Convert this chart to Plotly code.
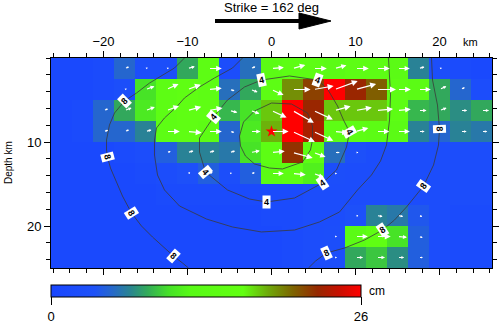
import math
import plotly.graph_objects as go

# ---------------- data ----------------
along_strike_km = [-25.0, -22.5, -20.0, -17.5, -15.0, -12.5, -10.0, -7.5, -5.0, -2.5, 0.0,
                   2.5, 5.0, 7.5, 10.0, 12.5, 15.0, 17.5, 20.0, 22.5, 25.0]
depth_km = [1.25, 3.75, 6.25, 8.75, 11.25, 13.75, 16.25, 18.75, 21.25, 23.75]

slip_cm = [
    [1, 1, 1.5, 5, 2.5, 2.5, 8, 14, 2, 5.5, 13, 14, 14, 13, 14, 14, 13, 6.5, 2.5, 1.5, 1],
    [1, 1, 1.5, 2.5, 10, 14, 15, 14, 5.5, 8, 14, 19, 21.5, 26, 22.5, 20.5, 14, 13, 8, 5, 2],
    [1, 1.5, 5, 8, 10.5, 14, 15, 15, 8.5, 10, 17.5, 26, 22.5, 17.5, 17.5, 17.5, 14, 8.5, 8, 7, 8],
    [1, 1.5, 5, 5, 6.5, 14, 15, 14, 5, 10.5, 18, 26, 23, 14, 14, 13.5, 13, 6.5, 5, 6.5, 6],
    [1, 1, 1, 1.5, 2, 4.5, 6.5, 6.5, 6, 10, 14, 22, 13.5, 5.5, 3, 2, 2, 2, 2, 2, 2],
    [1, 1, 1, 1, 1.5, 2, 3, 4.5, 2.5, 4.5, 13, 14, 11, 2.5, 2, 2, 2, 2, 2, 2, 2],
    [1, 1, 1, 1, 1, 1.5, 1.5, 1.5, 1.5, 1.5, 1.5, 1.5, 2, 2, 2, 2, 2, 2, 2, 2, 2],
    [1, 1, 1, 1, 1, 1, 1, 1, 1, 1, 1.5, 1.5, 2, 2, 3, 6.5, 6, 4, 2, 1.5, 1.5],
    [1, 1, 1, 1, 1, 1, 1, 1, 1, 1, 1, 1.5, 2, 2.5, 13, 15, 10, 4.5, 2, 1.5, 1.5],
    [1, 1, 1, 1, 1, 1, 1, 1, 1, 1, 1, 1.5, 2, 2.5, 8, 9, 7, 4.5, 2, 1.5, 1.5],
]

rake_deg = [
    [15, 15, 15, 20, 20, 15, 15, 0, 25, 20, 5, 15, 0, 15, 0, 0, 0, 15, 15, 0, 0],
    [20, 20, 20, 20, 20, 25, 20, 5, -15, -20, -25, 0, 10, 20, 15, 0, 0, 0, 25, 25, 0],
    [20, 20, 20, 20, 20, 20, 15, 10, -15, -20, -25, -30, -25, 15, 10, 5, 5, 0, 20, 0, 0],
    [15, 15, 15, 20, 15, 0, -5, 0, -10, 0, 0, -25, -25, -5, 15, 0, 0, 0, 0, 0, 0],
    [15, 15, 15, 15, 15, 15, 15, 15, 15, 10, 5, -15, -20, 0, 0, 0, 0, 0, 0, 0, 0],
    [15, 15, 15, 15, 15, 15, 15, 15, 10, 10, 0, -5, -20, 0, 0, 0, 0, 0, 0, 0, 0],
    [15, 15, 15, 15, 15, 15, 15, 0, 0, 0, 0, 0, 0, 0, 0, 0, 0, 0, 0, 0, 0],
    [15, 15, 15, 15, 15, 15, 0, 0, 0, 0, 0, 0, 0, 0, -10, -10, -10, -15, 0, 0, 0],
    [0, 0, 0, 0, 0, 0, 0, 0, 0, 0, 0, 0, 0, 0, 0, 0, -5, -15, 0, 0, 0],
    [0, 0, 0, 0, 0, 0, 0, 0, 0, 0, 0, 0, 0, 0, 0, 0, 0, 0, 0, 0, 0],
]

hypo_x = [0.0]
hypo_depth = [8.75]

# rupture-time contour polylines (km along strike, km depth)
c2_x = [-3.81, -3.33, -2.02, 0.0, 2.38, 4.29, 4.88, 4.88, 4.64, 3.69, 1.31, -0.24, -2.02, -3.10, -3.69, -3.81]
c2_d = [9.29, 7.62, 6.31, 5.36, 5.48, 6.55, 8.10, 9.76, 10.95, 12.38, 13.21, 13.10, 12.62, 11.67, 10.48, 9.29]

c4_x = [-1.19, 2.14, 5.48, 6.67, 7.86, 8.57, 9.29, 8.93, 7.74, 6.07, 2.74, -0.60, -2.62, -5.24, -7.86,
        -8.57, -8.57, -6.90, -5.24, -3.21, -1.19]
c4_d = [2.62, 2.14, 2.62, 3.69, 5.71, 7.38, 8.81, 10.60, 13.33, 14.88, 16.67, 17.14, 16.79, 15.71, 13.57,
        11.20, 9.52, 7.02, 5.00, 3.45, 2.62]

c6_x = [-3.45, -4.64, -6.79, -8.57, -10.36, -11.31, -12.74, -13.69, -13.93, -13.93, -13.57, -12.74, -10.95,
        -9.17, -7.74, -4.64, -1.19, 2.74, 5.71, 8.10, 10.24, 11.90, 12.98, 13.69, 14.05, 14.17, 13.93]
c6_d = [0.0, 1.19, 2.38, 3.45, 4.76, 5.83, 7.14, 8.33, 9.76, 11.55, 13.93, 15.71, 17.62,
        18.45, 19.17, 20.12, 20.71, 20.48, 19.52, 18.33, 15.71, 13.93, 12.26, 10.36, 7.38, 4.40, 0.0]

c8a_x = [-10.36, -11.55, -14.52, -16.07, -17.50, -18.69, -19.29, -19.64, -19.64, -19.52, -19.17, -18.57,
         -17.74, -16.67, -15.48, -14.17, -12.98, -11.67, -10.60, -9.88]
c8a_d = [0.0, 1.19, 2.98, 4.17, 5.12, 6.55, 7.98, 9.76, 10.95, 11.79, 13.10, 14.52,
         16.43, 18.45, 20.00, 21.31, 22.38, 23.57, 24.40, 25.0]

c8b_x = [19.05, 19.17, 19.76, 20.0, 19.88, 19.29, 18.10, 16.07, 14.64, 13.21, 11.07, 8.69, 6.55, 5.24, 4.40]
c8b_d = [0.0, 2.62, 5.60, 8.45, 10.36, 12.74, 15.24, 17.74, 19.29, 20.48, 21.67, 22.62, 23.21, 24.17, 25.0]

label_text = ["4", "4", "4", "4", "4", "4", "4", "8", "8", "8", "8", "8", "8", "8", "8"]
label_x = [-1.19, 5.48, -6.90, 9.29, -7.86, 6.07, -0.60, -17.50, -19.52, -16.67, -11.67, 6.55, 13.21, 18.10, 20.0]
label_d = [2.62, 2.62, 7.02, 8.81, 13.57, 14.88, 17.14, 5.12, 11.79, 18.45, 23.57, 23.21, 20.48, 15.24, 8.45]
label_angle = [-12, 20, -50, 60, 50, -34, 0, -45, 75, 58, 42, -25, -33, -55, 88]

x_ticks = [-20, -10, 0, 10, 20]
y_ticks = [10, 20]
cbar_ticks = [0, 26]

# ---------------- styling ----------------
FONT = "Liberation Sans, Arial, Helvetica, sans-serif"
colorscale = [
    [0.00, "rgb(25,70,255)"], [0.14, "rgb(30,82,248)"], [0.20, "rgb(38,105,200)"],
    [0.26, "rgb(42,135,140)"], [0.31, "rgb(50,170,90)"], [0.38, "rgb(70,225,40)"],
    [0.45, "rgb(88,250,22)"], [0.62, "rgb(98,255,18)"], [0.70, "rgb(110,170,10)"],
    [0.78, "rgb(125,100,0)"], [0.86, "rgb(150,40,0)"], [0.93, "rgb(200,15,0)"],
    [1.00, "rgb(255,0,0)"],
]

L, R, T, B = 51, 8, 58, 55
W, H = 500, 323
PW, PH = W - L - R, H - T - B


def px(xp):
    return (xp - L) / PW


def py(yp):
    return (H - B - yp) / PH


fig = go.Figure()
fig.add_trace(go.Heatmap(
    x=along_strike_km, y=depth_km, z=slip_cm, zmin=0, zmax=26, colorscale=colorscale,
    hoverinfo="skip",
    colorbar=dict(
        orientation="h", x=0, xanchor="left", y=py(285), yanchor="top",
        lenmode="pixels", len=310, thickness=12, xpad=0, ypad=0,
        outlinewidth=1, outlinecolor="black",
        tickmode="array", tickvals=cbar_ticks, ticks="outside", ticklen=8,
        tickcolor="black", tickfont=dict(size=13, color="black", family=FONT),
    ),
))

for cx, cd in [(c2_x, c2_d), (c4_x, c4_d), (c6_x, c6_d), (c8a_x, c8a_d), (c8b_x, c8b_d)]:
    fig.add_trace(go.Scatter(x=cx, y=cd, mode="lines", line=dict(color="#3a3a3a", width=0.8),
                             hoverinfo="skip", showlegend=False))

fig.add_trace(go.Scatter(x=hypo_x, y=hypo_depth, mode="markers",
                         marker=dict(symbol="star", size=9, color="red"),
                         hoverinfo="skip", showlegend=False))

annotations = []
KM_PER_CM = 0.95 / 8.4
for r, d in enumerate(depth_km):
    for c, xc in enumerate(along_strike_km):
        s = slip_cm[r][c]
        a = math.radians(rake_deg[r][c])
        ln = s * KM_PER_CM
        annotations.append(dict(
            x=xc + ln * math.cos(a), y=d - ln * math.sin(a), ax=xc, ay=d,
            xref="x", yref="y", axref="x", ayref="y", text="", showarrow=True,
            arrowhead=2, arrowsize=max(0.3, min(1.0, s / 15.0)), arrowwidth=1.2,
            arrowcolor="white", standoff=0, startstandoff=0,
        ))

for t, lx, ld, ang in zip(label_text, label_x, label_d, label_angle):
    annotations.append(dict(x=lx, y=ld, xref="x", yref="y", text="<b>" + t + "</b>", showarrow=False,
                            textangle=ang, bgcolor="white", borderpad=1,
                            font=dict(size=9, color="black", family=FONT)))

annotations.append(dict(x=px(271), y=py(8), xref="paper", yref="paper", text="Strike = 162 deg",
                        showarrow=False, xanchor="center", yanchor="middle",
                        font=dict(size=13, color="black", family=FONT)))
annotations.append(dict(x=px(470), y=py(42), xref="paper", yref="paper", text="km",
                        showarrow=False, xanchor="center", yanchor="middle",
                        font=dict(size=11, color="black", family=FONT)))
annotations.append(dict(x=px(8), y=py(163), xref="paper", yref="paper", text="Depth km",
                        showarrow=False, textangle=-90, xanchor="center", yanchor="middle",
                        font=dict(size=10, color="black", family=FONT)))
annotations.append(dict(x=px(367), y=py(291), xref="paper", yref="paper", text="cm",
                        showarrow=False, xanchor="left", yanchor="middle",
                        font=dict(size=12, color="black", family=FONT)))

shapes = [
    dict(type="line", xref="paper", yref="paper", x0=px(215), x1=px(302), y0=py(21), y1=py(21),
         line=dict(color="black", width=4)),
    dict(type="path", xref="paper", yref="paper",
         path=f"M {px(299)} {py(13)} L {px(331)} {py(21)} L {px(299)} {py(29)} Z",
         fillcolor="black", line=dict(color="black", width=1)),
]

axis_common = dict(
    showgrid=False, zeroline=False, showline=True, linecolor="black", linewidth=1,
    mirror="ticks", ticks="outside", ticklen=6, tickwidth=1, tickcolor="black",
    tickfont=dict(size=13, color="black", family=FONT),
    minor=dict(tickmode="linear", tick0=0, dtick=2, ticks="outside", ticklen=4,
               tickcolor="black", tickwidth=1, showgrid=False),
)

fig.update_layout(
    width=W, height=H, margin=dict(l=L, r=R, t=T, b=B, autoexpand=False),
    paper_bgcolor="white", plot_bgcolor="white", showlegend=False,
    font=dict(family=FONT, color="black"),
    xaxis=dict(range=[-26.25, 26.25], side="top", tickmode="array", tickvals=x_ticks, **axis_common),
    yaxis=dict(range=[25, 0], tickmode="array", tickvals=y_ticks, **axis_common),
    annotations=annotations, shapes=shapes,
)

fig.write_html("out.html")
